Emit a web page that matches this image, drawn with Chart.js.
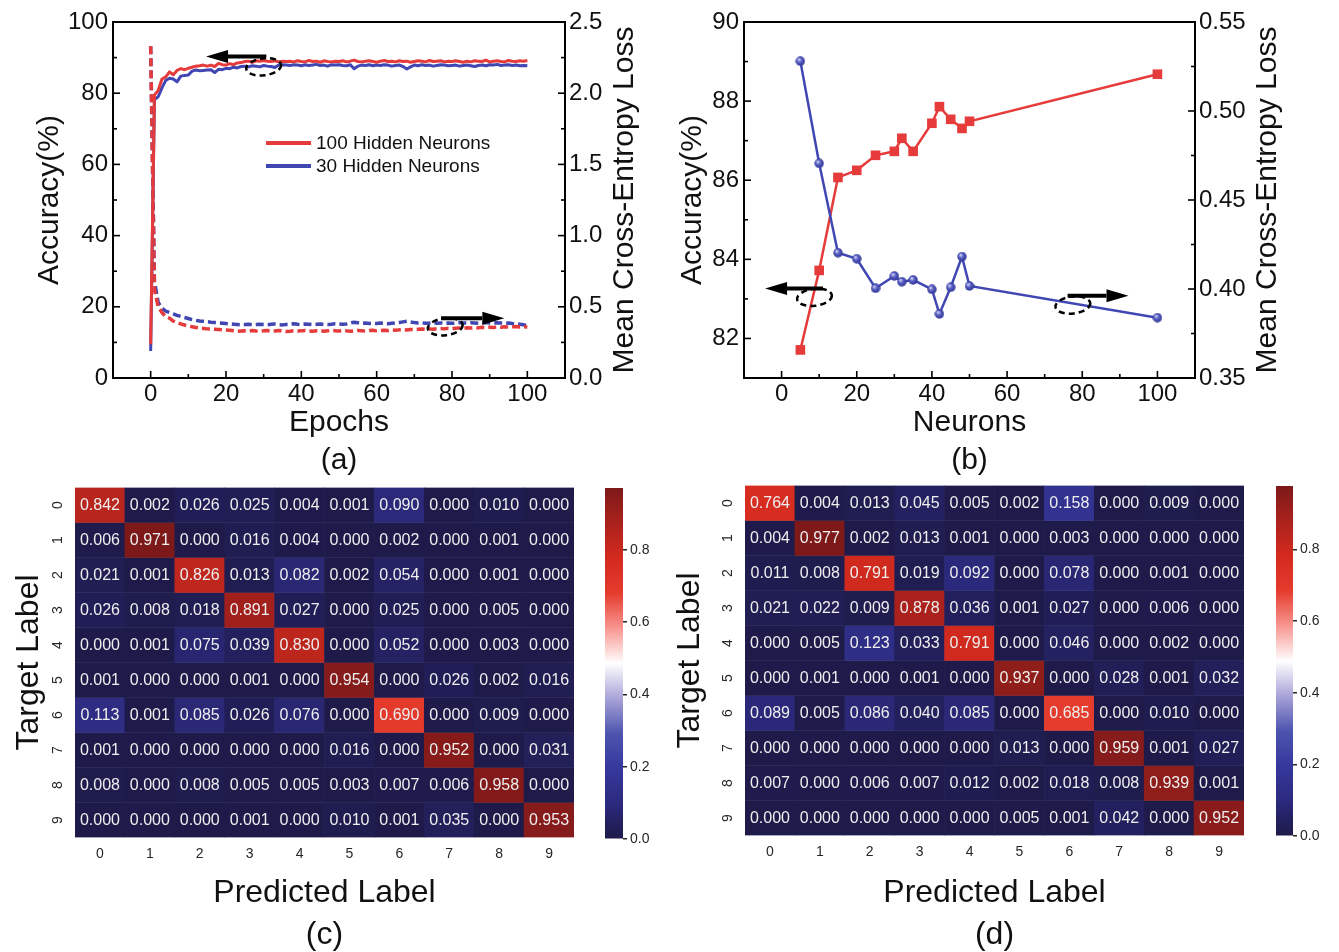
<!DOCTYPE html>
<html>
<head>
<meta charset="utf-8">
<script src="https://cdn.jsdelivr.net/npm/chart.js@4"></script>
<style>
  html, body { margin: 0; padding: 0; background: #fff; width: 1339px; height: 952px; overflow: hidden; }
  canvas { position: absolute; }
</style>
</head>
<body>
<canvas id="accLoss" width="670" height="485" style="left:0;top:0"></canvas>
<canvas id="neurons" width="669" height="485" style="left:670px;top:0"></canvas>
<canvas id="confC" width="600" height="486" style="left:0;top:470px"></canvas>
<canvas id="barC" width="80" height="400" style="left:590px;top:470px"></canvas>
<canvas id="confD" width="600" height="486" style="left:670px;top:470px"></canvas>
<canvas id="barD" width="78" height="400" style="left:1261px;top:470px"></canvas>
<script>
// ---- data: (a) accuracy / loss per epoch ----
const acc100 = [
  9.5, 79.5, 80.8, 84.0, 84.6, 86.0, 85.2, 86.4, 86.9, 86.6,
  87.0, 87.3, 87.6, 87.7, 87.9, 87.6, 87.9, 87.5, 88.4, 88.0,
  87.9, 88.3, 88.0, 88.5, 88.6, 88.9, 89.0, 88.7, 89.1, 89.0,
  89.2, 89.0, 88.9, 89.1, 88.8, 89.0, 88.9, 89.0, 88.8, 89.1,
  88.9, 88.8, 89.2, 88.9, 89.0, 88.7, 89.1, 88.9, 88.8, 89.0,
  88.9, 89.1, 88.8, 89.0, 89.3, 88.9, 88.8, 89.0, 89.1, 88.9,
  88.7, 89.0, 89.2, 88.9, 89.0, 88.8, 89.1, 88.9, 89.0, 88.7,
  88.9, 89.1, 89.0, 88.8, 89.2, 88.9, 89.0, 89.1, 88.8, 89.0,
  88.9, 89.1, 88.9, 88.7, 89.0, 88.8, 89.1, 89.0, 88.9, 89.3,
  88.8, 89.0, 89.1, 88.9, 88.8, 89.2, 89.0, 88.9, 89.1, 89.0,
  89.2
];
const acc30 = [
  7.6, 78.2, 79.0, 81.5, 83.6, 84.2, 84.0, 83.2, 84.8, 85.0,
  85.1, 86.2, 86.5, 86.3, 86.4, 86.5, 86.6, 85.8, 86.7, 86.6,
  87.0, 86.9, 87.3, 87.1, 87.5, 87.6, 87.4, 87.7, 87.6, 87.4,
  87.8, 87.6, 87.5, 87.2, 87.9, 88.0, 87.9, 87.8, 88.0, 87.9,
  87.7, 88.0, 87.8, 87.9, 88.1, 87.8, 87.9, 87.6, 88.0, 87.9,
  88.0, 87.8, 87.7, 88.0, 86.9, 87.6, 87.9, 87.8, 88.0, 87.7,
  87.9, 87.8, 88.0, 87.9, 87.6, 87.8, 87.9, 87.5, 86.8, 87.4,
  87.9, 87.7, 88.0, 87.8, 87.9, 87.6, 87.8, 88.0, 87.9, 87.7,
  87.8, 87.9, 87.6, 87.8, 87.9, 87.7, 87.5, 87.8, 87.9, 87.7,
  88.0, 87.9, 88.1, 87.8, 87.9, 88.0, 87.8, 87.9, 87.7, 87.8,
  87.7
];
const loss100 = [
  2.33, 0.62, 0.50, 0.46, 0.43, 0.42, 0.40, 0.39, 0.38, 0.372,
  0.365, 0.36, 0.355, 0.35, 0.348, 0.345, 0.343, 0.342, 0.34, 0.338,
  0.337, 0.335, 0.332, 0.328, 0.33, 0.331, 0.329, 0.333, 0.33, 0.328,
  0.331, 0.333, 0.329, 0.33, 0.334, 0.331, 0.327, 0.329, 0.332, 0.33,
  0.331, 0.334, 0.33, 0.328, 0.332, 0.333, 0.329, 0.331, 0.335, 0.332,
  0.33, 0.333, 0.331, 0.328, 0.33, 0.334, 0.332, 0.329, 0.333, 0.335,
  0.331, 0.334, 0.336, 0.333, 0.337, 0.335, 0.338, 0.34, 0.337, 0.341,
  0.339, 0.342, 0.344, 0.341, 0.345, 0.343, 0.346, 0.348, 0.345, 0.349,
  0.347, 0.35, 0.352, 0.349, 0.353, 0.351, 0.355, 0.352, 0.356, 0.354,
  0.357, 0.355, 0.358, 0.356, 0.36, 0.357, 0.359, 0.361, 0.358, 0.36,
  0.358
];
const loss30 = [
  2.33, 0.68, 0.53, 0.49, 0.47, 0.46, 0.45, 0.44, 0.432, 0.425,
  0.418, 0.41, 0.405, 0.40, 0.398, 0.395, 0.392, 0.39, 0.386, 0.385,
  0.382, 0.38, 0.378, 0.376, 0.374, 0.375, 0.377, 0.373, 0.375, 0.378,
  0.376, 0.374, 0.377, 0.379, 0.375, 0.373, 0.376, 0.378, 0.381, 0.377,
  0.376, 0.379, 0.378, 0.375, 0.377, 0.38, 0.378, 0.376, 0.378, 0.381,
  0.379, 0.377, 0.38, 0.386, 0.392, 0.388, 0.384, 0.386, 0.383, 0.385,
  0.382, 0.386, 0.384, 0.381, 0.385, 0.387, 0.39, 0.394, 0.398, 0.393,
  0.389, 0.386, 0.388, 0.384, 0.386, 0.389, 0.385, 0.387, 0.383, 0.386,
  0.384, 0.386, 0.389, 0.387, 0.385, 0.388, 0.386, 0.384, 0.387, 0.389,
  0.386, 0.385, 0.388, 0.386, 0.384, 0.386, 0.382, 0.38, 0.378, 0.374,
  0.366
];
const epochTicks = [0, 20, 40, 60, 80, 100];
const accTicks = [0, 20, 40, 60, 80, 100];
const lossTicks = [0, 0.5, 1.0, 1.5, 2.0, 2.5];

// ---- data: (b) accuracy / loss vs hidden neurons ----
const neurons = [5, 10, 15, 20, 25, 30, 32, 35, 40, 42, 45, 48, 50, 100];
const accNeurons = [81.71, 83.72, 86.07, 86.25, 86.63, 86.73, 87.06, 86.73, 87.44, 87.86, 87.54, 87.31, 87.49, 88.68];
const lossNeurons = [0.528, 0.4706, 0.4204, 0.417, 0.4004, 0.4073, 0.4041, 0.4051, 0.3998, 0.386, 0.401, 0.4182, 0.4017, 0.3839];
const neuronTicks = [0, 20, 40, 60, 80, 100];
const accNTicks = [82, 84, 86, 88, 90];
const lossNTicks = [0.35, 0.40, 0.45, 0.50, 0.55];

// ---- data: (c), (d) confusion matrices ----
const classLabels = ['0', '1', '2', '3', '4', '5', '6', '7', '8', '9'];
const confC = [
  [0.842, 0.002, 0.026, 0.025, 0.004, 0.001, 0.090, 0.000, 0.010, 0.000],
  [0.006, 0.971, 0.000, 0.016, 0.004, 0.000, 0.002, 0.000, 0.001, 0.000],
  [0.021, 0.001, 0.826, 0.013, 0.082, 0.002, 0.054, 0.000, 0.001, 0.000],
  [0.026, 0.008, 0.018, 0.891, 0.027, 0.000, 0.025, 0.000, 0.005, 0.000],
  [0.000, 0.001, 0.075, 0.039, 0.830, 0.000, 0.052, 0.000, 0.003, 0.000],
  [0.001, 0.000, 0.000, 0.001, 0.000, 0.954, 0.000, 0.026, 0.002, 0.016],
  [0.113, 0.001, 0.085, 0.026, 0.076, 0.000, 0.690, 0.000, 0.009, 0.000],
  [0.001, 0.000, 0.000, 0.000, 0.000, 0.016, 0.000, 0.952, 0.000, 0.031],
  [0.008, 0.000, 0.008, 0.005, 0.005, 0.003, 0.007, 0.006, 0.958, 0.000],
  [0.000, 0.000, 0.000, 0.001, 0.000, 0.010, 0.001, 0.035, 0.000, 0.953]
];
const confD = [
  [0.764, 0.004, 0.013, 0.045, 0.005, 0.002, 0.158, 0.000, 0.009, 0.000],
  [0.004, 0.977, 0.002, 0.013, 0.001, 0.000, 0.003, 0.000, 0.000, 0.000],
  [0.011, 0.008, 0.791, 0.019, 0.092, 0.000, 0.078, 0.000, 0.001, 0.000],
  [0.021, 0.022, 0.009, 0.878, 0.036, 0.001, 0.027, 0.000, 0.006, 0.000],
  [0.000, 0.005, 0.123, 0.033, 0.791, 0.000, 0.046, 0.000, 0.002, 0.000],
  [0.000, 0.001, 0.000, 0.001, 0.000, 0.937, 0.000, 0.028, 0.001, 0.032],
  [0.089, 0.005, 0.086, 0.040, 0.085, 0.000, 0.685, 0.000, 0.010, 0.000],
  [0.000, 0.000, 0.000, 0.000, 0.000, 0.013, 0.000, 0.959, 0.001, 0.027],
  [0.007, 0.000, 0.006, 0.007, 0.012, 0.002, 0.018, 0.008, 0.939, 0.001],
  [0.000, 0.000, 0.000, 0.000, 0.000, 0.005, 0.001, 0.042, 0.000, 0.952]
];
const cbarTicks = [0, 0.2, 0.4, 0.6, 0.8];

// ---- styles ----
const RED = '#e63b3b';
const BLUE = '#4047b3';
const INK = '#111';
const FONT = "'Liberation Sans', Arial, sans-serif";
Chart.defaults.font.family = FONT;
Chart.defaults.color = INK;

// diverging colormap (navy -> white -> dark red), t in 0..1
const cmapStops = [
  [0.00, [30, 27, 74]], [0.05, [36, 33, 98]], [0.10, [44, 42, 126]], [0.20, [54, 56, 156]],
  [0.30, [76, 84, 174]], [0.40, [168, 163, 216]], [0.50, [255, 255, 255]], [0.60, [248, 150, 145]],
  [0.70, [229, 60, 46]], [0.80, [212, 42, 30]], [0.90, [170, 34, 28]], [1.00, [125, 25, 25]]
];
function cmap(t) {
  t = Math.max(0, Math.min(1, t));
  for (let i = 1; i < cmapStops.length; i++) {
    const [t1, c1] = cmapStops[i];
    if (t <= t1) {
      const [t0, c0] = cmapStops[i - 1];
      const f = (t - t0) / (t1 - t0);
      return 'rgb(' + c0.map((v, k) => Math.round(v + (c1[k] - v) * f)).join(',') + ')';
    }
  }
  return 'rgb(125,25,25)';
}

// shaded "ball" marker used for the loss points in (b)
function ballMarker(size) {
  const c = document.createElement('canvas');
  c.width = c.height = size;
  const g = c.getContext('2d');
  const r = size / 2;
  const grad = g.createRadialGradient(r * 0.7, r * 0.65, 0.5, r, r, r);
  grad.addColorStop(0, '#c8ccf4');
  grad.addColorStop(0.45, '#5359c0');
  grad.addColorStop(1, '#2f3590');
  g.fillStyle = grad;
  g.beginPath();
  g.arc(r, r, r - 0.3, 0, Math.PI * 2);
  g.fill();
  return c;
}

const setTicks = (arr) => (s) => { s.ticks = arr.map(v => ({ value: v })); };
const pairs = (xs, ys) => ys.map((v, i) => ({ x: xs[i], y: v }));

// Frame box + inward major/minor ticks
const frame = {
  id: 'frame',
  afterDraw(chart) {
    const { ctx, chartArea: a } = chart;
    ctx.save();
    ctx.strokeStyle = '#000';
    ctx.lineWidth = 2;
    ctx.strokeRect(a.left, a.top, a.right - a.left, a.bottom - a.top);
    ctx.lineWidth = 1.6;
    Object.values(chart.scales).forEach(s => {
      const vals = s.ticks.map(t => t.value);
      const minors = [];
      for (let i = 0; i + 1 < vals.length; i++) minors.push((vals[i] + vals[i + 1]) / 2);
      const mark = (v, len) => {
        const p = s.getPixelForValue(v);
        ctx.beginPath();
        if (s.position === 'bottom') { ctx.moveTo(p, a.bottom); ctx.lineTo(p, a.bottom - len); }
        else if (s.position === 'left') { ctx.moveTo(a.left, p); ctx.lineTo(a.left + len, p); }
        else { ctx.moveTo(a.right, p); ctx.lineTo(a.right - len, p); }
        ctx.stroke();
      };
      vals.forEach(v => mark(v, 7));
      minors.forEach(v => mark(v, 4));
    });
    ctx.restore();
  }
};

// Right-hand axis title, reading bottom to top
const rightTitle = {
  id: 'rightTitle',
  afterDraw(chart, args, opts) {
    const { ctx, chartArea: a } = chart;
    ctx.save();
    ctx.translate(a.right + opts.dx, (a.top + a.bottom) / 2);
    ctx.rotate(-Math.PI / 2);
    ctx.font = '30px ' + FONT;
    ctx.fillStyle = INK;
    ctx.textAlign = 'center';
    ctx.textBaseline = 'middle';
    ctx.fillText(opts.text, 0, 0);
    ctx.restore();
  }
};

// Arrows and dashed rings that point to the axis each curve belongs to
const markers = {
  id: 'markers',
  afterDatasetsDraw(chart, args, opts) {
    const { ctx, scales } = chart;
    ctx.save();
    ctx.strokeStyle = '#000';
    ctx.fillStyle = '#000';
    (opts.rings || []).forEach(r => {
      const cx = scales.x.getPixelForValue(r.x);
      const cy = scales[r.axis].getPixelForValue(r.y);
      ctx.lineWidth = 2.5;
      ctx.setLineDash([6, 4]);
      ctx.beginPath();
      ctx.ellipse(cx, cy, 17.5, 8.5, -0.12, 0, Math.PI * 2);
      ctx.stroke();
    });
    ctx.setLineDash([]);
    (opts.arrows || []).forEach(ar => {
      const x0 = scales.x.getPixelForValue(ar.from);
      const x1 = scales.x.getPixelForValue(ar.to);
      const y = scales[ar.axis].getPixelForValue(ar.y);
      const dir = Math.sign(x1 - x0);
      const head = 22;
      ctx.lineWidth = 4;
      ctx.beginPath();
      ctx.moveTo(x0, y);
      ctx.lineTo(x1 - dir * head, y);
      ctx.stroke();
      ctx.beginPath();
      ctx.moveTo(x1, y);
      ctx.lineTo(x1 - dir * head, y - 6.5);
      ctx.lineTo(x1 - dir * head, y + 6.5);
      ctx.closePath();
      ctx.fill();
    });
    ctx.restore();
  }
};

// Legend drawn inside the plot area (only the solid accuracy lines)
const innerLegend = {
  id: 'innerLegend',
  afterDraw(chart, args, opts) {
    const { ctx, chartArea: a } = chart;
    ctx.save();
    ctx.font = '19px ' + FONT;
    ctx.textBaseline = 'middle';
    ctx.fillStyle = INK;
    chart.data.datasets.filter(d => d.inLegend).forEach((d, i) => {
      const x = a.left + opts.left;
      const y = a.top + opts.top + i * opts.gap;
      ctx.strokeStyle = d.borderColor;
      ctx.lineWidth = 4;
      ctx.beginPath();
      ctx.moveTo(x, y);
      ctx.lineTo(x + 45, y);
      ctx.stroke();
      ctx.fillText(d.label, x + 50, y + 1);
    });
    ctx.restore();
  }
};

// Cell values of the confusion matrices
const cellText = {
  id: 'cellText',
  afterDatasetsDraw(chart) {
    const ctx = chart.ctx;
    ctx.save();
    ctx.font = '16px ' + FONT;
    ctx.fillStyle = '#eeeeee';
    ctx.textAlign = 'center';
    ctx.textBaseline = 'middle';
    chart.data.datasets.forEach((ds, r) => {
      chart.getDatasetMeta(r).data.forEach((bar, c) => {
        const p = bar.getProps(['x', 'y', 'base'], true);
        ctx.fillText(ds.cells[c].toFixed(3), p.x, (p.y + p.base) / 2 + 0.5);
      });
    });
    ctx.restore();
  }
};

const common = { responsive: false, animation: false, devicePixelRatio: 1 };
const noGrid = { display: false, drawTicks: false };
const noBorder = { display: false };

// ---------- (a) ----------
const epochs = acc100.map((_, i) => i);
new Chart(document.getElementById('accLoss'), {
  type: 'line',
  data: {
    datasets: [
      { label: '100 Hidden Neurons', data: pairs(epochs, acc100), borderColor: RED, borderWidth: 3, yAxisID: 'y', inLegend: true },
      { label: '30 Hidden Neurons', data: pairs(epochs, acc30), borderColor: BLUE, borderWidth: 3, yAxisID: 'y', inLegend: true },
      { label: 'Loss 100', data: pairs(epochs, loss100), borderColor: RED, borderWidth: 3.5, borderDash: [8, 4], yAxisID: 'y1' },
      { label: 'Loss 30', data: pairs(epochs, loss30), borderColor: BLUE, borderWidth: 3.5, borderDash: [8, 4], yAxisID: 'y1' }
    ]
  },
  options: {
    ...common,
    layout: { padding: { top: 22 } },
    elements: { point: { radius: 0 }, line: { tension: 0, borderJoinStyle: 'round' } },
    plugins: {
      legend: { display: false }, tooltip: { enabled: false },
      rightTitle: { text: 'Mean Cross-Entropy Loss', dx: 60 },
      innerLegend: { left: 153, top: 121, gap: 23 },
      markers: {
        arrows: [{ from: 30.7, to: 14.7, y: 90.3, axis: 'y' }, { from: 77.1, to: 93.9, y: 0.419, axis: 'y1' }],
        rings: [{ x: 30.0, y: 87.4, axis: 'y' }, { x: 78.2, y: 0.36, axis: 'y1' }]
      }
    },
    scales: {
      x: {
        type: 'linear', min: -10, max: 110, afterBuildTicks: setTicks(epochTicks),
        afterFit: s => { s.height = 107; },
        grid: noGrid, border: noBorder,
        ticks: { font: { size: 24 }, color: INK, padding: 2, maxRotation: 0 },
        title: { display: true, text: ['Epochs', '(a)'], color: INK, font: { size: 30, lineHeight: '38px' }, padding: { top: 0, bottom: 5 } }
      },
      y: {
        position: 'left', min: 0, max: 100, afterBuildTicks: setTicks(accTicks),
        afterFit: s => { s.width = 113; },
        grid: noGrid, border: noBorder,
        ticks: { font: { size: 24 }, color: INK, padding: 5 },
        title: { display: true, text: 'Accuracy(%)', color: INK, font: { size: 30 }, padding: { top: 32 } }
      },
      y1: {
        position: 'right', min: 0, max: 2.5, afterBuildTicks: setTicks(lossTicks),
        afterFit: s => { s.width = 105; },
        grid: noGrid, border: noBorder,
        ticks: { font: { size: 24 }, color: INK, padding: 4, callback: v => v.toFixed(1) }
      }
    }
  },
  plugins: [frame, rightTitle, markers, innerLegend]
});

// ---------- (b) ----------
new Chart(document.getElementById('neurons'), {
  type: 'line',
  data: {
    datasets: [
      { label: 'Loss', data: pairs(neurons, lossNeurons), borderColor: BLUE, borderWidth: 2.5, yAxisID: 'y1',
        pointStyle: ballMarker(10), pointRadius: 5 },
      { label: 'Accuracy', data: pairs(neurons, accNeurons), borderColor: RED, borderWidth: 2.5, yAxisID: 'y',
        pointStyle: 'rect', pointRadius: 6.8, pointBackgroundColor: RED, pointBorderWidth: 0 }
    ]
  },
  options: {
    ...common,
    layout: { padding: { top: 22 } },
    elements: { line: { tension: 0 } },
    plugins: {
      legend: { display: false }, tooltip: { enabled: false },
      rightTitle: { text: 'Mean Cross-Entropy Loss', dx: 73 },
      markers: {
        arrows: [{ from: 11.0, to: -4.4, y: 83.26, axis: 'y' }, { from: 76.1, to: 92.3, y: 0.3962, axis: 'y1' }],
        rings: [{ x: 8.75, y: 83.04, axis: 'y' }, { x: 77.5, y: 0.391, axis: 'y1' }]
      }
    },
    scales: {
      x: {
        type: 'linear', min: -10, max: 110, afterBuildTicks: setTicks(neuronTicks),
        afterFit: s => { s.height = 107; },
        grid: noGrid, border: noBorder,
        ticks: { font: { size: 24 }, color: INK, padding: 2, maxRotation: 0 },
        title: { display: true, text: ['Neurons', '(b)'], color: INK, font: { size: 30, lineHeight: '38px' }, padding: { top: 0, bottom: 5 } }
      },
      y: {
        position: 'left', min: 81, max: 90, afterBuildTicks: setTicks(accNTicks),
        afterFit: s => { s.width = 74; },
        grid: noGrid, border: noBorder,
        ticks: { font: { size: 24 }, color: INK, padding: 5 },
        title: { display: true, text: 'Accuracy(%)', color: INK, font: { size: 30 }, padding: { top: 5 } }
      },
      y1: {
        position: 'right', min: 0.35, max: 0.55, afterBuildTicks: setTicks(lossNTicks),
        afterFit: s => { s.width = 144; },
        grid: noGrid, border: noBorder,
        ticks: { font: { size: 24 }, color: INK, padding: 4, callback: v => v.toFixed(2) }
      }
    }
  },
  plugins: [frame, rightTitle, markers]
});

// ---------- (c), (d) heatmaps ----------
function heatmap(id, matrix, panel, padTop, titlePad) {
  const vmax = Math.max(...matrix.flat());
  return new Chart(document.getElementById(id), {
    type: 'bar',
    data: {
      labels: classLabels,
      datasets: matrix.map((row, r) => ({
        label: classLabels[r],
        data: row.map(() => 1),
        cells: row,
        backgroundColor: row.map(v => cmap(v / vmax)),
        borderWidth: 0, barPercentage: 1, categoryPercentage: 1
      }))
    },
    options: {
      ...common,
      layout: { padding: { top: padTop, right: 26 } },
      plugins: { legend: { display: false }, tooltip: { enabled: false } },
      scales: {
        x: {
          stacked: true, grid: noGrid, border: noBorder,
          afterFit: s => { s.height = 486 - padTop - 350; },
          ticks: { font: { size: 14 }, color: '#262626', padding: 8, maxRotation: 0 },
          title: { display: true, text: ['Predicted Label', panel], color: INK, font: { size: 32, lineHeight: '42px' }, padding: 0 }
        },
        y: {
          stacked: true, reverse: true, min: 0, max: 10,
          afterBuildTicks: s => { s.ticks = classLabels.map((_, i) => ({ value: i + 0.5 })); },
          afterFit: s => { s.width = 75; s.paddingTop = 0; s.paddingBottom = 0; },
          grid: noGrid, border: noBorder,
          ticks: { callback: v => classLabels[Math.floor(v)], minRotation: 90, maxRotation: 90, crossAlign: 'center',
                   padding: 13, font: { size: 14 }, color: '#262626' },
          title: { display: true, text: 'Target Label', color: INK, font: { size: 32 }, padding: { top: titlePad } }
        }
      }
    },
    plugins: [cellText]
  });
}

function colorbar(id, matrix, padTop, padBottom, axisWidth) {
  const vmax = Math.max(...matrix.flat());
  return new Chart(document.getElementById(id), {
    type: 'bar',
    data: {
      labels: [''],
      datasets: [{
        data: [[0, vmax]],
        backgroundColor: (ctx) => {
          const a = ctx.chart.chartArea;
          if (!a) return 'transparent';
          const g = ctx.chart.ctx.createLinearGradient(0, a.bottom, 0, a.top);
          cmapStops.forEach(([t, c]) => g.addColorStop(t, 'rgb(' + c.join(',') + ')'));
          return g;
        },
        borderWidth: 0, barPercentage: 1, categoryPercentage: 1
      }]
    },
    options: {
      ...common,
      layout: { padding: { left: 15, top: padTop, bottom: padBottom } },
      plugins: { legend: { display: false }, tooltip: { enabled: false } },
      scales: {
        x: { display: false },
        y: {
          position: 'right', min: 0, max: vmax, afterBuildTicks: setTicks(cbarTicks),
          afterFit: s => { s.width = axisWidth; s.paddingTop = 0; s.paddingBottom = 0; },
          grid: { drawOnChartArea: false, drawTicks: true, tickLength: 4, color: '#262626', lineWidth: 1.5 },
          border: noBorder,
          ticks: { callback: v => v.toFixed(1), font: { size: 14 }, color: '#262626', padding: 3 }
        }
      }
    }
  });
}

heatmap('confC', confC, '(c)', 17.5, 10);
colorbar('barC', confC, 18, 31, 47);
heatmap('confD', confD, '(d)', 15.5, 0.8);
colorbar('barD', confD, 16, 34, 46);
</script>
</body>
</html>
